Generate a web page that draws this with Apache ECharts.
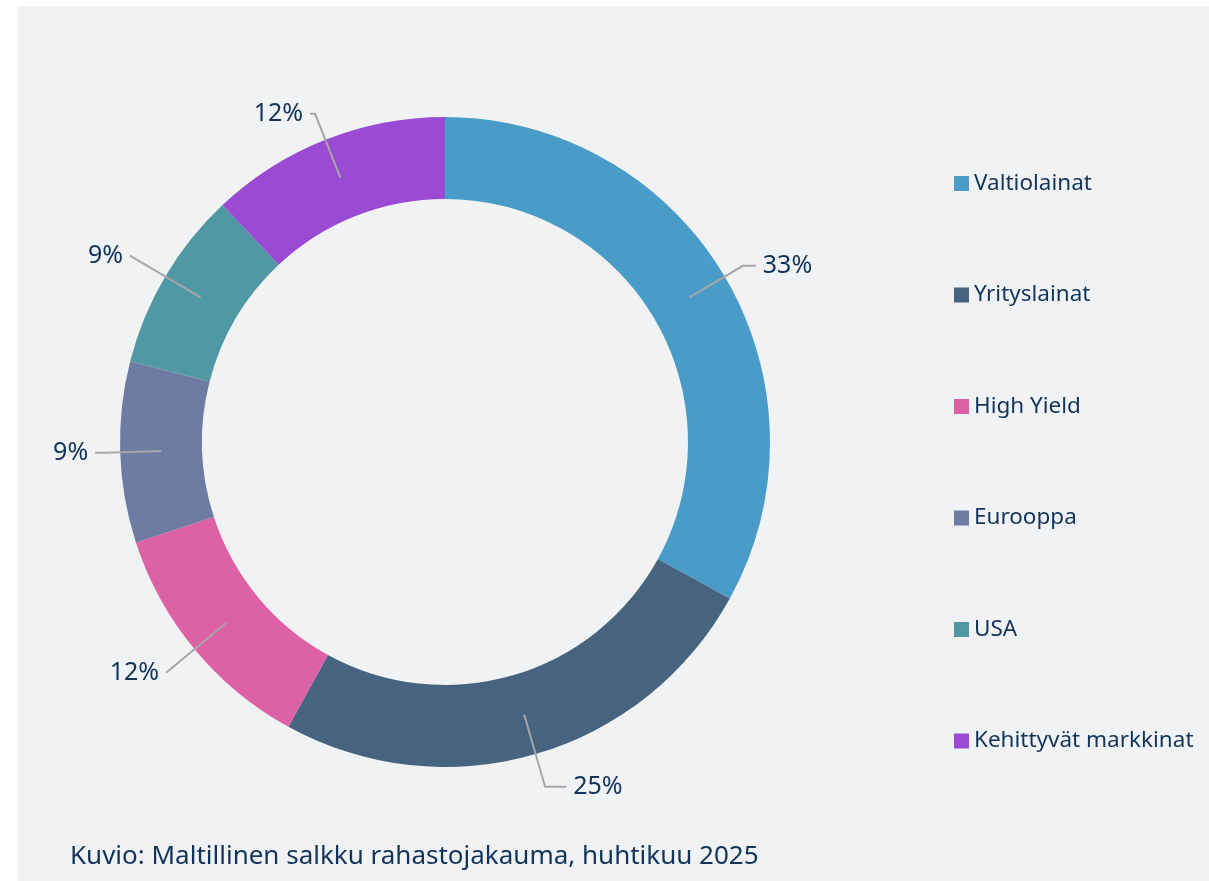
<!DOCTYPE html>
<html>
<head>
<meta charset="utf-8">
<title>Maltillinen salkku rahastojakauma</title>
<script src="https://cdn.jsdelivr.net/npm/echarts@6/dist/echarts.min.js"></script>
<style>
  html, body { margin: 0; padding: 0; background: #ffffff; }
  #chart { width: 1209px; height: 881px; }
</style>
</head>
<body>
<div id="chart"></div>
<script>
// Fund allocation shares (%), clockwise from 12 o'clock
const categories = ['Valtiolainat', 'Yrityslainat', 'High Yield', 'Eurooppa', 'USA', 'Kehittyvät markkinat'];
const shares = [33, 25, 12, 9, 9, 12];
const colors = ['#4a9cc8', '#46647f', '#dd62a5', '#6e7ba3', '#4f98a4', '#9b4ad4'];
const caption = 'Kuvio: Maltillinen salkku rahastojakauma, huhtikuu 2025';

// Leader line segment lengths per slice: [radial part, horizontal part]
const leaderLengths = [[62, 13], [75, 21], [78, 0], [56, 10], [82, 0], [69, 5]];

const textColor = '#12345a';
const fontFamily = '"Noto Sans", "Open Sans", sans-serif';

const ringData = categories.map((name, i) => ({
  name: name,
  value: shares[i],
  itemStyle: { color: colors[i] }
}));

// Invisible inner pie carrying the percentage labels, so the leader
// lines start in the middle of the ring
const labelData = categories.map((name, i) => ({
  name: name,
  value: shares[i],
  labelLine: { length: leaderLengths[i][0], length2: leaderLengths[i][1] }
}));

const chart = echarts.init(document.getElementById('chart'), null, { renderer: 'canvas' });

chart.setOption({
  backgroundColor: '#ffffff',
  animation: false,
  graphic: [
    {
      type: 'rect',
      z: -10,
      shape: { x: 18, y: 6, width: 1191, height: 875 },
      style: { fill: '#f0f2f4' }
    },
    {
      type: 'text',
      left: 70,
      top: 844,
      style: {
        text: caption,
        fill: textColor,
        font: '26px ' + fontFamily
      }
    }
  ],
  legend: {
    orient: 'vertical',
    left: 949,
    top: 167,
    itemWidth: 15,
    itemHeight: 15,
    itemGap: 88.5,
    icon: 'rect',
    data: categories,
    textStyle: {
      color: textColor,
      fontSize: 22.5,
      lineHeight: 22,
      fontFamily: fontFamily
    }
  },
  series: [
    {
      type: 'pie',
      z: 2,
      center: [445, 442],
      radius: [243, 325],
      startAngle: 90,
      clockwise: true,
      silent: true,
      label: { show: false },
      labelLine: { show: false },
      data: ringData
    },
    {
      type: 'pie',
      z: 5,
      center: [445, 442],
      radius: [0, 284],
      startAngle: 90,
      clockwise: true,
      silent: true,
      legendHoverLink: false,
      avoidLabelOverlap: false,
      itemStyle: { color: 'rgba(0,0,0,0)' },
      label: {
        show: true,
        position: 'outside',
        formatter: '{c}%',
        color: textColor,
        fontSize: 25,
        fontFamily: fontFamily,
        distanceToLabelLine: 7
      },
      labelLine: {
        show: true,
        lineStyle: { color: '#a6a6a6', width: 2 }
      },
      data: labelData
    }
  ]
});
</script>
</body>
</html>
